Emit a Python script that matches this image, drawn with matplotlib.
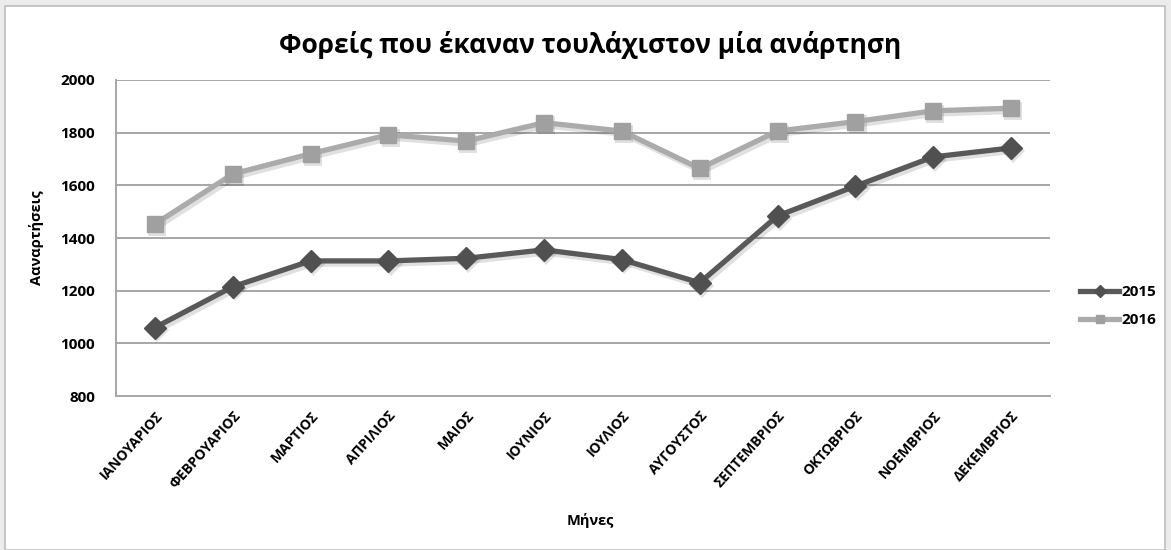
import matplotlib
matplotlib.use("Agg")
import matplotlib.pyplot as plt
import matplotlib.transforms as mtransforms
from matplotlib.patches import Rectangle

months = ["ΙΑΝΟΥΑΡΙΟΣ", "ΦΕΒΡΟΥΑΡΙΟΣ", "ΜΑΡΤΙΟΣ", "ΑΠΡΙΛΙΟΣ", "ΜΑΙΟΣ", "ΙΟΥΝΙΟΣ",
          "ΙΟΥΛΙΟΣ", "ΑΥΓΟΥΣΤΟΣ", "ΣΕΠΤΕΜΒΡΙΟΣ", "ΟΚΤΩΒΡΙΟΣ", "ΝΟΕΜΒΡΙΟΣ", "ΔΕΚΕΜΒΡΙΟΣ"]
posts_2015 = [1060, 1215, 1313, 1313, 1323, 1355, 1318, 1230, 1484, 1597, 1708, 1742]
posts_2016 = [1453, 1643, 1720, 1792, 1768, 1838, 1806, 1664, 1806, 1842, 1883, 1893]
y_ticks = [800, 1000, 1200, 1400, 1600, 1800, 2000]

plt.rcParams["font.family"] = ["Open Sans", "DejaVu Sans"]
plt.rcParams["font.weight"] = "bold"

W, H = 1171, 550
fig = plt.figure(figsize=(W / 100, H / 100), dpi=100)
fig.patch.set_facecolor("#ececec")

# white chart frame behind everything
frame = Rectangle((5 / W, 0), (1165 - 5) / W, (H - 6) / H, transform=fig.transFigure,
                  facecolor="white", edgecolor="#bdbdbd", linewidth=1.2, zorder=-10)
fig.patches.append(frame)

ax = fig.add_axes([116 / W, (H - 396) / H, 934 / W, 316 / H])
ax.set_facecolor("none")

x = list(range(len(months)))
shadow_tr = ax.transData + mtransforms.ScaledTranslation(1.5 / 72, -2.0 / 72, fig.dpi_scale_trans)

series = [
    (posts_2015, "2015", "#595959", "#505050", "D", 11, 4),
    (posts_2016, "2016", "#ababab", "#a0a0a0", "s", 12, 3),
]
for vals, name, lc, mc, mk, ms, z in series:
    # soft drop shadow under each series
    ax.plot(x, vals, color="black", alpha=0.12, lw=4.5, marker=mk, markersize=ms + 1,
            markeredgewidth=0, transform=shadow_tr, zorder=z - 0.5, solid_joinstyle="round")
    ax.plot(x, vals, color=lc, lw=3.8, marker=mk, markersize=ms,
            markerfacecolor=mc, markeredgecolor=mc, label=name, zorder=z,
            solid_joinstyle="round")

ax.set_xlim(-0.5, len(months) - 0.5)
ax.set_ylim(800, 2000)
ax.set_yticks(y_ticks)
ax.yaxis.grid(True, color="#a6a6a6", linewidth=1.4)
ax.set_axisbelow(True)
for s in ["top", "right"]:
    ax.spines[s].set_visible(False)
ax.spines["left"].set_color("#a6a6a6")
ax.spines["left"].set_linewidth(1.4)
ax.spines["bottom"].set_color("#a6a6a6")
ax.spines["bottom"].set_linewidth(1.4)
ax.tick_params(axis="both", length=0)
ax.tick_params(axis="y", pad=15, labelsize=11)
ax.set_xticks(x)
ax.set_xticklabels(months, rotation=48, ha="right", rotation_mode="anchor", fontsize=10)
ax.tick_params(axis="x", pad=9)

ax.set_ylabel("Ααναρτήσεις", fontsize=10.5, fontweight="bold", labelpad=12)
fig.text(590 / W, 1 - 521 / H, "Μήνες", ha="center", va="center", fontsize=10.5, fontweight="bold")
fig.text(590 / W, 1 - 45 / H, "Φορείς που έκαναν τουλάχιστον μία ανάρτηση", ha="center", va="center",
         fontsize=19, fontweight="bold")

leg = ax.legend(loc="center left", bbox_to_anchor=(1066 / W, 1 - 306 / H),
                bbox_transform=fig.transFigure, frameon=False, fontsize=11,
                handlelength=2.6, handletextpad=0.15, labelspacing=0.9)
for ln in leg.get_lines():
    ln.set_markersize(6)

fig.savefig("out.png", dpi=100, facecolor=fig.get_facecolor())
